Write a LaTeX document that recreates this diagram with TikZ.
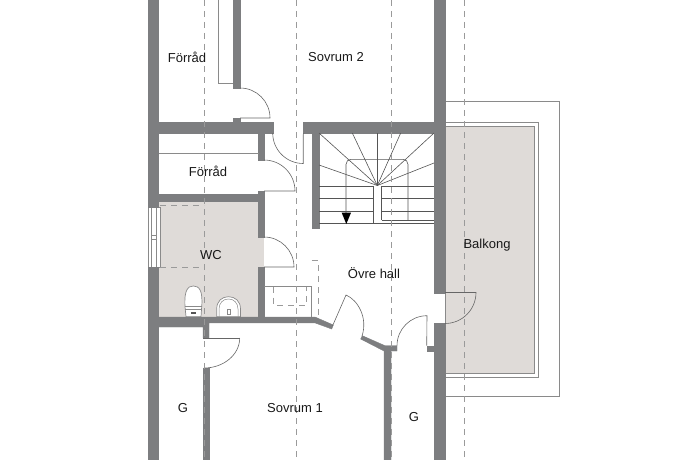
\documentclass[tikz,border=0pt]{standalone}
\usepackage{fontspec}
\setmainfont{Liberation Sans}
\definecolor{wallgray}{HTML}{7D7E80}
\definecolor{floorgray}{HTML}{DFDBD8}
\definecolor{thingray}{HTML}{8A8A8A}
\definecolor{dashgray}{HTML}{9A9A9A}
\definecolor{stairgray}{HTML}{555555}
\begin{document}
\begin{tikzpicture}[x=1pt,y=-1pt,font=\fontsize{13}{15}\selectfont]
  \tikzstyle{wall}=[fill=wallgray,draw=wallgray,line width=0.4pt]
  \tikzstyle{floor}=[fill=floorgray]
  \tikzstyle{thin line}=[draw=thingray,line width=0.7pt]
  \tikzstyle{door}=[draw=stairgray!90,line width=0.6pt]
  \tikzstyle{gridline}=[draw=dashgray,line width=0.7pt,dash pattern=on 6pt off 5pt]
  \tikzstyle{stair}=[draw=stairgray,line width=0.6pt]
  \tikzstyle{room label}=[text=black!90,inner sep=0pt]
  \useasboundingbox (0,0) rectangle (690,460);

  % floors
  \fill[floor] (158,201) rectangle (264,317);
  \draw[thin line] (445,101) -- (559.7,101) -- (559.7,396) -- (445,396);
  \draw[draw=thingray,line width=1pt] (445,122.3) -- (538.7,122.3) -- (538.7,377.3) -- (445,377.3);
  \fill[floor,draw=thingray,line width=0.8pt] (445,126.7) rectangle (534,373.3);

  % window
  \draw[thin line,fill=white] (148,207.5) rectangle (160,267);
  \draw[thin line,line width=0.5pt] (151.5,207.5) -- (151.5,267) (156.5,207.5) -- (156.5,267);
  \draw[thin line,line width=0.5pt] (151.5,235) rectangle (156.5,239);

  % fixtures
  \draw[thin line,fill=white] (185,306.7) .. controls (184,290) and (188,286) .. (193.3,286)
    .. controls (199,286) and (203,290) .. (201.7,306.7) -- (201,316.7) -- (186,316.7) -- cycle;
  \draw[thin line,line width=0.5pt] (185,306.7) -- (201.7,306.7) (185.3,309) -- (201.5,309);
  \fill[stairgray] (191,312) rectangle (196,314);
  \draw[thin line,fill=white] (216.7,316.7) -- (216.7,309) .. controls (216.7,301) and (222,296.7) .. (228.5,296.7)
    .. controls (235,296.7) and (240.5,301) .. (240.5,309) -- (240.5,316.7) -- cycle;
  \draw[thin line,line width=0.5pt] (219,316.7) -- (219,309) .. controls (219,303) and (223,299) .. (228.5,299)
    .. controls (234,299) and (238,303) .. (238,309) -- (238,316.7);
  \draw[thin line,line width=0.5pt] (227.5,309) rectangle (230.5,314);

  % walls
  \path[wall] (148,0) -- (158.5,0) -- (158.5,207.5) -- (148,207.5) -- cycle;
  \path[wall] (148,267) -- (158.5,267) -- (158.5,460) -- (148,460) -- cycle;
  \path[wall] (158,122) rectangle (272.7,133);
  \path[wall] (158,194.5) rectangle (258.5,201);
  \path[wall] (233,0) rectangle (240,88);
  \path[wall] (233,118) rectangle (240,122);
  \path[wall] (258.5,133) rectangle (264,160);
  \path[wall] (258.5,191) rectangle (264,237);
  \path[wall] (258.5,267) rectangle (264,317);
  \path[wall] (158,317) -- (315,317) -- (333.3,325) -- (331.7,329) -- (315,322.9)
    -- (209,322.9) -- (209,338) -- (203,338) -- (203,327) -- (158,327) -- cycle;
  \path[wall] (203,368) rectangle (209,460);
  \path[wall] (360.7,339) -- (362.3,335.7) -- (385,345.7) -- (397,345.7) -- (397,351)
    -- (391,351) -- (391,460) -- (384,460) -- (384,351) -- cycle;
  \path[wall] (427,345.7) rectangle (434.5,351);
  \path[wall] (434.3,0) rectangle (445,293);
  \path[wall] (434.3,323.6) rectangle (445,460);
  \path[wall] (303.3,122) rectangle (434.3,133);
  \path[wall] (311.7,133) rectangle (318.7,228);

  % stairs
  \coordinate (stair c) at (377.3,185.5);
  \foreach \sx/\sy in {319/133,352.3/133,377.3/133,400.7/133,434/133,434/163,319/165}
    \draw[stair] (stair c) -- (\sx,\sy);
  \foreach \sy in {186.7,198.7,211}
    \draw[stair] (319,\sy) -- (373.3,\sy) (381.7,\sy) -- (434,\sy);
  \draw[stair] (319,223.7) -- (434,223.7);
  \draw[stair] (381.7,220) -- (434,220);
  \draw[stair] (373.3,186) -- (373.3,223.7) (381.7,186) -- (381.7,220);
  \draw[stair,rounded corners=5pt] (346,213) -- (346,159.3) -- (408,159.3) -- (408,220);
  \fill[black] (341.7,212.7) -- (351,212.7) -- (346.3,224) -- cycle;

  % doors
  \draw[door] (240,88) arc[start angle=-90,end angle=0,radius=30] -- (240,118);
  \draw[door] (272.7,133) arc[start angle=180,end angle=90,radius=30.5] -- (303.3,133);
  \draw[door] (264,160) arc[start angle=-90,end angle=0,radius=31] -- (264,191);
  \draw[door] (264,237) arc[start angle=-90,end angle=0,radius=30] -- (264,267);
  \draw[door] (239.7,338) arc[start angle=0,end angle=90,x radius=35.7,y radius=30];
  \draw[door] (203,338) -- (239.7,338);
  \draw[door] (332.5,326) -- (346,295) .. controls (358,300) and (368,318) .. (362,336);
  \draw[door] (397,345.7) arc[start angle=180,end angle=270,radius=30] -- (426.7,345.7);
  \draw[door] (445,292.5) -- (476,292.5) arc[start angle=0,end angle=90,radius=31];

  % built-ins
  \draw[thin line] (158.5,153) -- (258.5,153);
  \draw[thin line] (218,0) -- (218,83.5) -- (233,83.5);
  \draw[thin line] (264,286.7) -- (311.7,286.7) -- (311.7,317);
  \draw[gridline] (273.3,286.7) -- (273.3,305) -- (306.7,305) -- (306.7,286.7);
  \draw[gridline] (311.7,260.7) -- (318.3,260.7) -- (318.3,317);
  \draw[gridline] (160,205) -- (204,205) (160,267.7) -- (204,267.7);

  % roof lines
  \foreach \gx in {204,296.7,391,464}
    \draw[gridline] (\gx,0) -- (\gx,460);

  % labels
  \node[room label] (forrad a) at (187,57) {Förråd};
  \node[room label] (sovrum b) at (336,57) {Sovrum 2};
  \node[room label] (forrad b) at (208,171) {Förråd};
  \node[room label] (wc) at (211,255) {WC};
  \node[room label] (hall) at (374,273) {Övre hall};
  \node[room label] (balkong) at (487,245) {Balkong};
  \node[room label] (g a) at (183,408) {G};
  \node[room label] (sovrum a) at (295,408) {Sovrum 1};
  \node[room label] (g b) at (414,417) {G};
\end{tikzpicture}
\end{document}
